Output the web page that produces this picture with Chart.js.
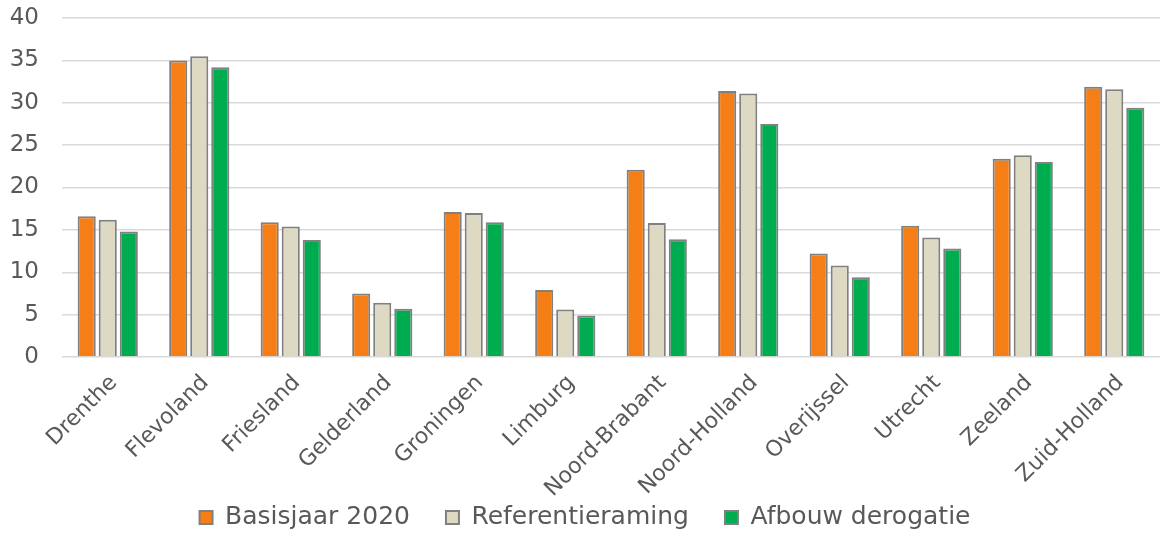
<!DOCTYPE html>
<html>
<head>
<meta charset="utf-8">
<script src="https://cdn.jsdelivr.net/npm/chart.js@4/dist/chart.umd.min.js"></script>
<style>
  html, body { margin: 0; padding: 0; background: #ffffff; }
  #wrap { width: 1164px; height: 533px; }
</style>
</head>
<body>
<div id="wrap"><canvas id="provinciesGr"></canvas></div>
<script>
// Provincies en waarden per scenario
const provincies = ['Drenthe', 'Flevoland', 'Friesland', 'Gelderland', 'Groningen', 'Limburg',
    'Noord-Brabant', 'Noord-Holland', 'Overijssel', 'Utrecht', 'Zeeland', 'Zuid-Holland'];

const basisjaar2020 = [16.6, 35.0, 15.9, 7.5, 17.1, 7.9, 22.1, 31.4, 12.2, 15.5, 23.4, 31.9];
const referentieraming = [16.2, 35.5, 15.4, 6.4, 17.0, 5.6, 15.8, 31.1, 10.8, 14.1, 23.8, 31.6];
const afbouwDerogatie = [14.8, 34.2, 13.8, 5.7, 15.9, 4.9, 13.9, 27.5, 9.4, 12.8, 23.0, 29.4];

const yTicks = [0, 5, 10, 15, 20, 25, 30, 35, 40];

const tekstKleur = '#595959';
const randKleur = '#808080';

// x-labels mogen doorlopen tot in de ruimte boven de legenda
const labelsNietAfsnijden = {
    id: 'labelsNietAfsnijden',
    afterLayout: (chart) => {
        chart.scales.x.bottom = chart.height;
    }
};

const generarGrafico = () => {

    const data = {
        labels: provincies,
        datasets: [
            {
                label: 'Basisjaar 2020',
                data: basisjaar2020,
                borderWidth: 2,
                borderColor: randKleur,
                backgroundColor: '#F57E17',
            },
            {
                label: 'Referentieraming',
                data: referentieraming,
                borderWidth: 2,
                borderColor: randKleur,
                backgroundColor: '#DDD9C3',
            },
            {
                label: 'Afbouw derogatie',
                data: afbouwDerogatie,
                borderWidth: 2,
                borderColor: randKleur,
                backgroundColor: '#00AC50',
            }
        ]
    };

    const config = {
        type: 'bar',
        data: data,
        plugins: [labelsNietAfsnijden],
        options: {
            responsive: true,
            maintainAspectRatio: false,
            animation: false,
            categoryPercentage: 0.69,
            barPercentage: 0.86,
            layout: {
                padding: { top: 18, left: 10, right: 4, bottom: 0 }
            },
            plugins: {
                legend: {
                    position: 'bottom',
                    maxHeight: 64,
                    labels: {
                        color: tekstKleur,
                        boxWidth: 13,
                        boxHeight: 13,
                        padding: 36,
                        font: { family: 'DejaVu Sans', size: 25 }
                    }
                },
                tooltip: { enabled: false }
            },
            scales: {
                x: {
                    grid: { display: false, drawTicks: false },
                    border: { display: false },
                    afterFit: (scale) => {
                        scale.height = 112;
                        scale.paddingLeft = 0;
                        scale.paddingRight = 0;
                    },
                    ticks: {
                        color: tekstKleur,
                        minRotation: 45,
                        maxRotation: 45,
                        padding: 13,
                        labelOffset: 6,
                        font: { family: 'DejaVu Sans', size: 22 }
                    }
                },
                y: {
                    min: 0,
                    max: 40,
                    afterBuildTicks: (axis) => {
                        axis.ticks = yTicks.map(v => ({ value: v }));
                    },
                    afterFit: (scale) => {
                        scale.width = 52;
                        scale.paddingTop = 0;
                        scale.paddingBottom = 0;
                    },
                    grid: { color: '#D9D9D9', lineWidth: 1.5, drawTicks: false },
                    border: { display: false },
                    ticks: {
                        color: tekstKleur,
                        padding: 23,
                        font: { family: 'DejaVu Sans', size: 23 }
                    }
                }
            }
        }
    };

    const myChart = new Chart(
        document.getElementById('provinciesGr'),
        config
    );
}

generarGrafico();
</script>
</body>
</html>
